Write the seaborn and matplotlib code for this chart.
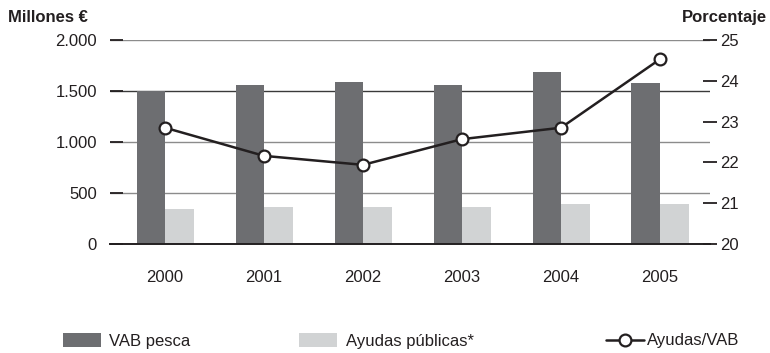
import matplotlib
matplotlib.use("Agg")
import matplotlib.pyplot as plt
import numpy as np
import pandas as pd
import seaborn as sns
from matplotlib.patches import Patch
from matplotlib.lines import Line2D

# Data
years = ["2000", "2001", "2002", "2003", "2004", "2005"]
vab_pesca = [1500, 1560, 1590, 1560, 1690, 1580]          # millones €
ayudas_publicas = [343, 363, 363, 363, 392, 392]          # millones €
ayudas_vab = [22.85, 22.16, 21.94, 22.57, 22.85, 24.53]   # porcentaje

left_ticks = [0, 500, 1000, 1500, 2000]
left_ticklabels = ["0", "500", "1.000", "1.500", "2.000"]
right_ticks = [20, 21, 22, 23, 24, 25]

series_names = ["VAB pesca", "Ayudas públicas*"]
line_name = "Ayudas/VAB"

# Style
DARK = "#6d6e71"
LIGHT = "#d1d3d4"
INK = "#231f20"
GRID = "#8c8c8c"

sns.set_theme(style="white")
plt.rcParams["font.family"] = ["Liberation Sans", "DejaVu Sans"]
plt.rcParams["text.color"] = INK

df = pd.DataFrame({
    "Año": years * 2,
    "Millones": vab_pesca + ayudas_publicas,
    "Serie": [series_names[0]] * len(years) + [series_names[1]] * len(years),
})

W, H = 770, 353
fig = plt.figure(figsize=(W / 100, H / 100), dpi=100)
ax = fig.add_axes([110 / W, 1 - 244 / H, 600 / W, 204 / H])

sns.barplot(data=df, x="Año", y="Millones", hue="Serie",
            palette=[DARK, LIGHT], saturation=1, width=0.576, gap=0,
            legend=False, ax=ax, zorder=2, linewidth=0, edgecolor="none")

ax.set_ylim(0, 2000)
ax.set_yticks(left_ticks)
ax.set_yticklabels(left_ticklabels)
ax.set_xlim(-0.556, 5.505)
ax.set_xlabel("")
ax.set_ylabel("")
ax.set_axisbelow(True)
ax.yaxis.grid(True, color=GRID, linewidth=1.0)
ax.xaxis.grid(False)
ax.get_ygridlines()[3].set_color("#3a3a3a")

for side in ("left", "top", "right"):
    ax.spines[side].set_visible(False)
ax.spines["bottom"].set_color(INK)
ax.spines["bottom"].set_linewidth(1.4)
ax.spines["bottom"].set_zorder(5)

ax.tick_params(axis="y", direction="in", length=9.5, width=1.3, color=INK,
               pad=9.4, labelsize=12, labelcolor=INK, left=True)
ax.tick_params(axis="x", length=0, pad=19, labelsize=12, labelcolor=INK)

# Percentage line on the secondary axis
ax2 = ax.twinx()
sns.lineplot(x=np.arange(len(years)), y=ayudas_vab, ax=ax2, color=INK,
             linewidth=1.8, marker="o", markersize=8.5,
             markerfacecolor="white", markeredgecolor=INK,
             markeredgewidth=1.6, zorder=6)
ax2.set_ylim(20, 25)
ax2.set_yticks(right_ticks)
ax2.set_ylabel("")
for side in ("left", "top", "right", "bottom"):
    ax2.spines[side].set_visible(False)
ax2.tick_params(axis="y", direction="inout", length=10, width=1.3, color=INK,
                pad=2.5, labelsize=12, labelcolor=INK, right=True)
ax.set_xlim(-0.556, 5.505)

# Axis titles
fig.text(8 / W, 1 - 22 / H, "Millones €", fontsize=12, fontweight="bold",
         ha="left", va="baseline", color=INK)
fig.text(767 / W, 1 - 22 / H, "Porcentaje", fontsize=12, fontweight="bold",
         ha="right", va="baseline", color=INK)

# Legend entries along the bottom
legend_y = 1 - 341 / H
common = dict(loc="center left", frameon=False, fontsize=12, borderpad=0,
              borderaxespad=0, labelcolor=INK)
leg1 = fig.legend(handles=[Patch(facecolor=DARK, edgecolor="none")],
                  labels=[series_names[0]], bbox_to_anchor=(63 / W, legend_y),
                  handlelength=2.3, handleheight=0.95, handletextpad=0.45,
                  **common)
leg2 = fig.legend(handles=[Patch(facecolor=LIGHT, edgecolor="none")],
                  labels=[series_names[1]], bbox_to_anchor=(299 / W, legend_y),
                  handlelength=2.3, handleheight=0.95, handletextpad=0.55,
                  **common)
leg3 = fig.legend(handles=[Line2D([], [], color=INK, linewidth=1.8, marker="o",
                                  markersize=8.5, markerfacecolor="white",
                                  markeredgecolor=INK, markeredgewidth=1.6)],
                  labels=[line_name], bbox_to_anchor=(606 / W, legend_y),
                  handlelength=2.3, handletextpad=0.15, numpoints=1,
                  **common)

fig.savefig("out.png", dpi=100)
